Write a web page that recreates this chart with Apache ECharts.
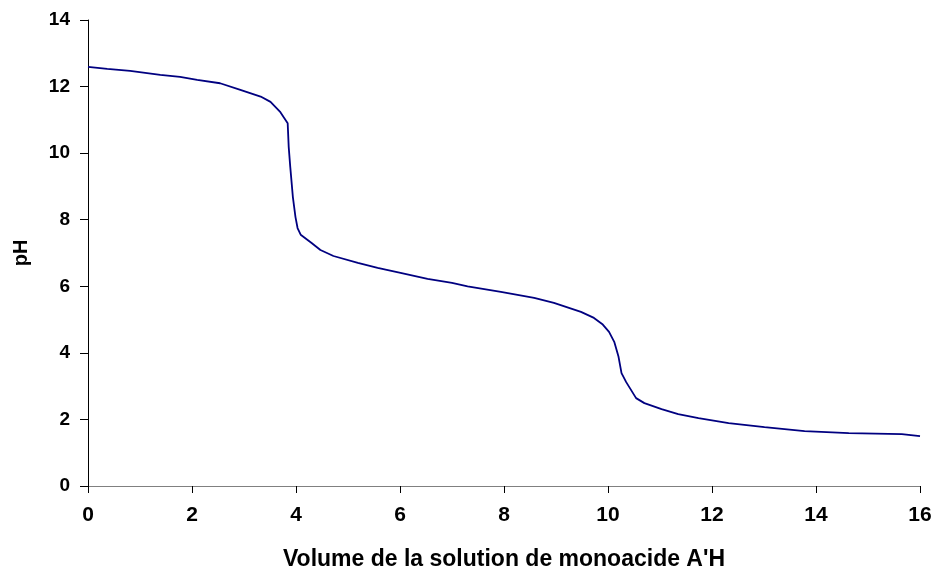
<!DOCTYPE html>
<html>
<head>
<meta charset="utf-8">
<script src="https://cdn.jsdelivr.net/npm/echarts@6/dist/echarts.min.js"></script>
<style>
  html, body { margin: 0; padding: 0; background: #fff; }
  #chart { width: 937px; height: 572px; }
</style>
</head>
<body>
<div id="chart"></div>
<script>
// volume (x) et pH
var volume = [0, 0.37, 0.81, 1.39, 1.77, 2.1, 2.54, 2.93, 3.32, 3.51, 3.70, 3.84, 3.86, 3.89, 3.94, 3.99, 4.03, 4.09, 4.3, 4.47, 4.72, 5.19, 5.57, 6.01, 6.53, 7.0, 7.3, 7.94, 8.58, 8.96, 9.48, 9.73, 9.9, 10.02, 10.12, 10.2, 10.26, 10.35, 10.54, 10.7, 11.03, 11.35, 11.74, 12.32, 13.01, 13.78, 14.63, 15.65, 16];
var ph = [12.59, 12.53, 12.47, 12.35, 12.29, 12.2, 12.1, 11.9, 11.7, 11.54, 11.23, 10.9, 10.18, 9.58, 8.68, 8.08, 7.75, 7.55, 7.3, 7.09, 6.91, 6.7, 6.55, 6.4, 6.22, 6.1, 6.0, 5.83, 5.65, 5.5, 5.23, 5.05, 4.85, 4.63, 4.33, 3.9, 3.39, 3.12, 2.64, 2.49, 2.31, 2.16, 2.04, 1.89, 1.77, 1.65, 1.59, 1.56, 1.5];

var points = volume.map(function (v, i) { return [v, ph[i]]; });

var arial = 'Liberation Sans, Arial, sans-serif';

var myChart = echarts.init(document.getElementById('chart'));
myChart.setOption({
  animation: false,
  grid: { left: 88, right: 17, top: 20, bottom: 86, outerBoundsMode: 'none' },
  xAxis: {
    type: 'value', min: 0, max: 16, interval: 2,
    name: "Volume de la solution de monoacide A'H",
    nameLocation: 'middle', nameGap: 62,
    nameTextStyle: { fontFamily: arial, fontWeight: 'bold', fontSize: 23, color: '#000' },
    axisLine: { onZero: false, lineStyle: { color: '#808080', width: 1 } },
    axisTick: { show: true, inside: false, length: 7, lineStyle: { color: '#000' } },
    axisLabel: { margin: 19, fontFamily: arial, fontWeight: 'bold', fontSize: 21, color: '#000' },
    splitLine: { show: false }
  },
  yAxis: {
    type: 'value', min: 0, max: 14, interval: 2,
    name: 'pH', nameLocation: 'middle', nameGap: 57,
    nameTextStyle: { fontFamily: arial, fontWeight: 'bold', fontSize: 20, color: '#000' },
    axisLine: { show: true, lineStyle: { color: '#000', width: 1 } },
    axisTick: { show: true, inside: false, length: 8, lineStyle: { color: '#000' } },
    axisLabel: { margin: 18, fontFamily: arial, fontWeight: 'bold', fontSize: 19, color: '#000' },
    splitLine: { show: false }
  },
  series: [{
    type: 'line',
    data: points,
    showSymbol: false,
    smooth: false,
    lineStyle: { color: '#000080', width: 1.8 }
  }]
});
</script>
</body>
</html>
